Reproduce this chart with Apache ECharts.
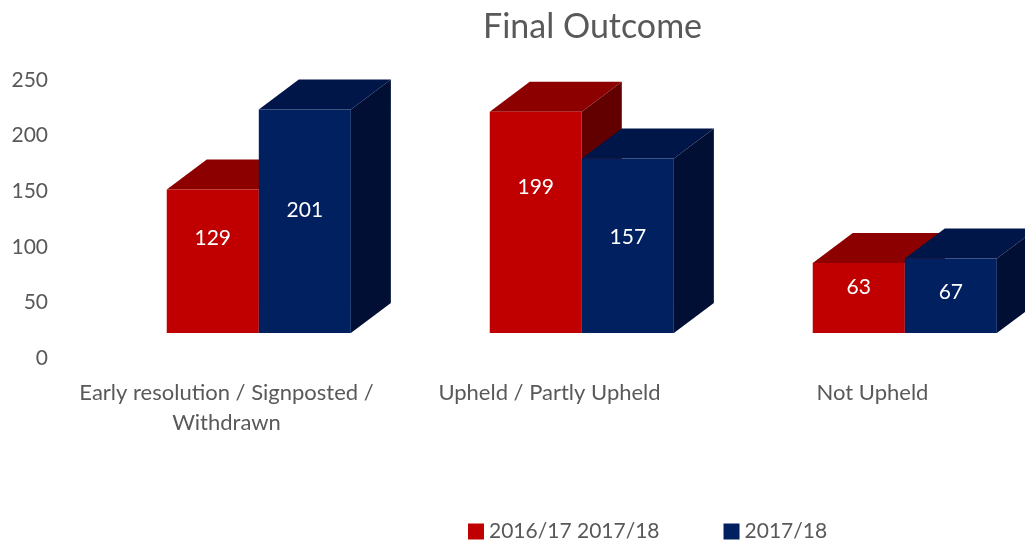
<!DOCTYPE html>
<html>
<head>
<meta charset="utf-8">
<script src="https://cdn.jsdelivr.net/npm/echarts@6/dist/echarts.min.js"></script>
<style>
html,body{margin:0;padding:0;background:#fff;}
#chart{width:1025px;height:543px;}
</style>
</head>
<body>
<div id="chart"></div>
<script>
var categories = ['Early resolution / Signposted /\nWithdrawn', 'Upheld / Partly Upheld', 'Not Upheld'];
var seriesNames = ['2016/17 2017/18', '2017/18'];
var values1617 = [129, 199, 63];
var values1718 = [201, 157, 67];
var yTicks = [0, 50, 100, 150, 200, 250];

var FONT = 'Lato, "Open Sans", sans-serif';
var TEXT = '#595959';
// front / top / side
var shades = [
    ['#c00000', '#8c0000', '#620000'],
    ['#002060', '#001548', '#000f33']
];
var labelPos = [0.34, 0.45];
var LIFT = 25, DX = 40, DY = 30;

function bar3d(idx) {
    return function (params, api) {
        var cat = api.value(0), v = api.value(1);
        var base = api.coord([cat, 0]);
        var top = api.coord([cat, v]);
        var band = api.size([1, 0])[0];
        var bw = band * 0.285;
        var cx = base[0] + band * 0.1;
        var x0 = idx === 0 ? cx - bw : cx;
        var x1 = x0 + bw;
        var yb = base[1] - LIFT, yt = top[1] - LIFT;
        var c = shades[idx];
        return {
            type: 'group',
            children: [
                {type: 'polygon', shape: {points: [[x0, yt], [x0 + DX, yt - DY], [x1 + DX, yt - DY], [x1, yt]]}, style: {fill: c[1]}},
                {type: 'polygon', shape: {points: [[x1, yt], [x1 + DX, yt - DY], [x1 + DX, yb - DY], [x1, yb]]}, style: {fill: c[2]}},
                {type: 'rect', shape: {x: x0, y: yt, width: bw, height: yb - yt}, style: {fill: c[0]}},
                {type: 'text', x: (x0 + x1) / 2, y: yt + (yb - yt) * labelPos[idx],
                    style: {text: String(v), fill: '#fff', font: '21px ' + FONT, align: 'center', verticalAlign: 'middle'}}
            ]
        };
    };
}

var chart = echarts.init(document.getElementById('chart'));
chart.setOption({
    animation: false,
    title: {
        text: 'Final Outcome',
        left: 478, top: 5,
        textStyle: {color: TEXT, fontSize: 34, fontWeight: 'normal', fontFamily: FONT}
    },
    legend: {
        data: seriesNames,
        left: 468, bottom: 1, padding: 0,
        icon: 'rect', itemWidth: 16, itemHeight: 16, itemGap: 64,
        textStyle: {color: TEXT, fontSize: 21, fontFamily: FONT}
    },
    grid: {left: 65, width: 969, top: 80, bottom: 185, outerBoundsMode: 'none'},
    xAxis: {
        type: 'category',
        data: categories,
        axisLine: {show: false},
        axisTick: {show: false},
        axisLabel: {color: TEXT, fontSize: 22, fontFamily: FONT, margin: 20, lineHeight: 30, interval: 0}
    },
    yAxis: {
        type: 'value',
        min: yTicks[0], max: yTicks[yTicks.length - 1], interval: 50,
        axisLine: {show: false},
        axisTick: {show: false},
        splitLine: {show: false},
        axisLabel: {color: TEXT, fontSize: 21, fontFamily: FONT, margin: 17}
    },
    series: [
        {name: seriesNames[0], type: 'custom', renderItem: bar3d(0), itemStyle: {color: shades[0][0]},
            encode: {x: 0, y: 1}, data: values1617.map(function (v, i) { return [i, v]; })},
        {name: seriesNames[1], type: 'custom', renderItem: bar3d(1), itemStyle: {color: shades[1][0]},
            encode: {x: 0, y: 1}, data: values1718.map(function (v, i) { return [i, v]; })}
    ]
});
</script>
</body>
</html>
